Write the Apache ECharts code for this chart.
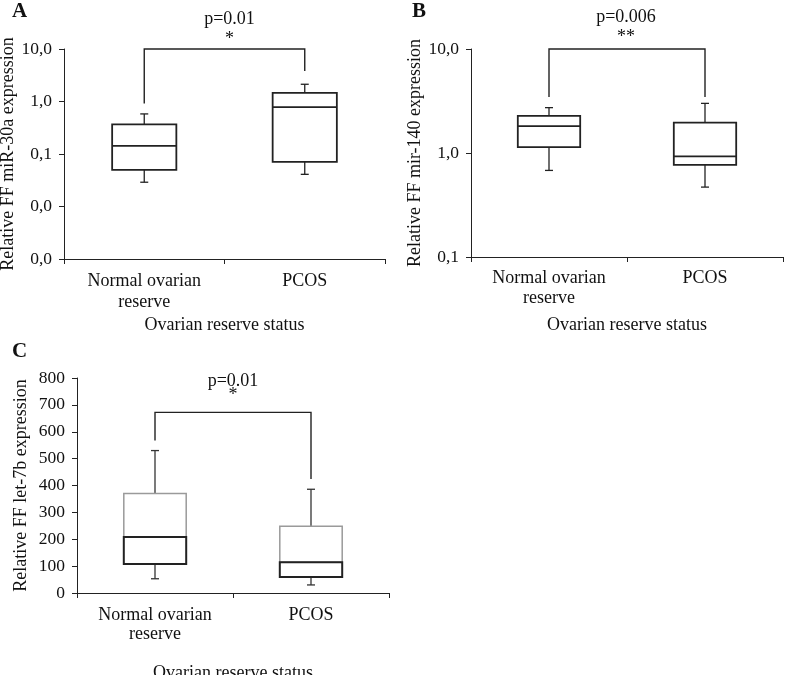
<!DOCTYPE html>
<html>
<head>
<meta charset="utf-8">
<script src="https://cdn.jsdelivr.net/npm/echarts@6/dist/echarts.min.js"></script>
<style>
html,body{margin:0;padding:0;background:#fff;}
#c{width:787px;height:675px;}
</style>
</head>
<body>
<div id="c"></div>
<script>
// ---------- data ----------
const categories = ['Normal ovarian\nreserve', 'PCOS'];
const xAxisTitle = 'Ovarian reserve status';

// box rows: [low whisker, Q1, median, Q3, high whisker]
const miR30a_normal = [0.029, 0.050, 0.143, 0.366, 0.58];
const miR30a_pcos   = [0.041, 0.071, 0.78, 1.46, 2.13];
const miR140_normal = [0.68, 1.14, 1.81, 2.27, 2.73];
const miR140_pcos   = [0.47, 0.77, 0.93, 1.96, 3.0];
const let7b_normal  = [53, 108, 208, 370, 530];
const let7b_pcos    = [30, 60, 114, 248, 386];

// significance brackets: [left leg bottom, bracket top, right leg bottom]
const bracketA = [0.92, 10, 3.8];
const bracketB = [3.45, 10, 3.45];
const bracketC = [567, 672, 424];
const pTextA = ['p=0.01', '*'];
const pTextB = ['p=0.006', '**'];
const pTextC = ['p=0.01', '*'];

const yNameA = 'Relative FF miR-30a expression';
const yNameB = 'Relative FF mir-140 expression';
const yNameC = 'Relative FF let-7b expression';
const panelLetters = ['A', 'B', 'C'];

// ---------- helpers ----------
const FONT = '"Liberation Serif", "Times New Roman", serif';
const BLACK = '#111';

function boxRows(a, b) {
  return [[0].concat(a), [1].concat(b)];
}

function makeBoxRender(split) {
  return function (params, api) {
    const x = api.value(0);
    const low = api.value(1), q1 = api.value(2), med = api.value(3), q3 = api.value(4), high = api.value(5);
    const pLow = api.coord([x, low]);
    const pQ1 = api.coord([x, q1]);
    const pMed = api.coord([x, med]);
    const pQ3 = api.coord([x, q3]);
    const pHigh = api.coord([x, high]);
    const step = api.coord([1, q1])[0] - api.coord([0, q1])[0];
    const bw = step * 0.4;
    const cx = pMed[0];
    const cap = 4;
    const wStyle = { stroke: split ? '#333' : '#222', lineWidth: 1.3, fill: null };
    const children = [
      { type: 'line', shape: { x1: cx, y1: pHigh[1], x2: cx, y2: pQ3[1] }, style: wStyle },
      { type: 'line', shape: { x1: cx - cap, y1: pHigh[1], x2: cx + cap, y2: pHigh[1] }, style: wStyle },
      { type: 'line', shape: { x1: cx, y1: pQ1[1], x2: cx, y2: pLow[1] }, style: wStyle },
      { type: 'line', shape: { x1: cx - cap, y1: pLow[1], x2: cx + cap, y2: pLow[1] }, style: wStyle }
    ];
    if (split) {
      children.push({ type: 'rect', shape: { x: cx - bw / 2, y: pQ3[1], width: bw, height: pMed[1] - pQ3[1] },
        style: { fill: '#fff', stroke: '#9a9a9a', lineWidth: 1.5 } });
      children.push({ type: 'rect', shape: { x: cx - bw / 2, y: pMed[1], width: bw, height: pQ1[1] - pMed[1] },
        style: { fill: '#fff', stroke: '#222', lineWidth: 2 } });
    } else {
      children.push({ type: 'rect', shape: { x: cx - bw / 2, y: pQ3[1], width: bw, height: pQ1[1] - pQ3[1] },
        style: { fill: '#fff', stroke: '#222', lineWidth: 1.8 } });
      children.push({ type: 'line', shape: { x1: cx - bw / 2, y1: pMed[1], x2: cx + bw / 2, y2: pMed[1] },
        style: { stroke: '#222', lineWidth: 1.8 } });
    }
    return { type: 'group', children: children };
  };
}

function makeBracketRender(texts, dx, pOff, sOff) {
  return function (params, api) {
    const l = api.coord([0, api.value(0)]);
    const t0 = api.coord([0, api.value(1)]);
    const t1 = api.coord([1, api.value(1)]);
    const r = api.coord([1, api.value(2)]);
    const mx = (t0[0] + t1[0]) / 2 + dx;
    return {
      type: 'group',
      children: [
        { type: 'polyline', shape: { points: [l, t0, t1, r] }, style: { stroke: '#222', lineWidth: 1.4, fill: null } },
        { type: 'text', x: mx, y: t0[1] + pOff, style: { text: texts[0], fill: BLACK, font: '18px ' + FONT, align: 'center', verticalAlign: 'middle' } },
        { type: 'text', x: mx, y: t0[1] + sOff, style: { text: texts[1], fill: BLACK, font: '18px ' + FONT, align: 'center', verticalAlign: 'middle' } }
      ]
    };
  };
}

function xAxisCfg(grid, margin, lineHeight, nameGap) {
  return {
    type: 'category', gridIndex: grid, data: categories, boundaryGap: true,
    axisLine: { lineStyle: { color: '#222', width: 1 } },
    axisTick: { show: true, length: 5, lineStyle: { color: '#222' } },
    axisLabel: { color: BLACK, fontFamily: FONT, fontSize: 18, margin: margin, lineHeight: lineHeight },
    name: xAxisTitle, nameLocation: 'middle', nameGap: nameGap,
    nameTextStyle: { color: BLACK, fontFamily: FONT, fontSize: 18 },
    splitLine: { show: false }
  };
}

const logFmt = v => Number(v).toFixed(1).replace('.', ',');

const yLabel = { color: BLACK, fontFamily: FONT, fontSize: 17.5, margin: 12 };
const yLine = { show: true, lineStyle: { color: '#222', width: 1 } };
const yTick = { show: true, length: 5, lineStyle: { color: '#222' } };
const yNameStyle = { color: BLACK, fontFamily: FONT, fontSize: 18 };
const letterStyle = { fontFamily: FONT, fontWeight: 'bold', fontSize: 21, color: BLACK };

const option = {
  animation: false,
  backgroundColor: '#fff',
  title: [
    { text: panelLetters[0], left: 12, top: 1, padding: 0, textStyle: letterStyle },
    { text: panelLetters[1], left: 412, top: 1, padding: 0, textStyle: letterStyle },
    { text: panelLetters[2], left: 12, top: 341, padding: 0, textStyle: letterStyle }
  ],
  grid: [
    { left: 64, top: 49, width: 321, height: 210, outerBoundsMode: 'none' },
    { left: 471, top: 49, width: 312, height: 208, outerBoundsMode: 'none' },
    { left: 77, top: 378, width: 312, height: 215, outerBoundsMode: 'none' }
  ],
  xAxis: [
    xAxisCfg(0, 12, 21, 57),
    xAxisCfg(1, 11, 20, 59),
    xAxisCfg(2, 13, 19, 71)
  ],
  yAxis: [
    { type: 'log', gridIndex: 0, logBase: 10, min: 0.001, max: 10,
      axisLine: yLine, axisTick: yTick, splitLine: { show: false },
      axisLabel: Object.assign({ formatter: logFmt }, yLabel),
      name: yNameA, nameLocation: 'middle', nameGap: 46, nameTextStyle: yNameStyle },
    { type: 'log', gridIndex: 1, logBase: 10, min: 0.1, max: 10,
      axisLine: yLine, axisTick: yTick, splitLine: { show: false },
      axisLabel: Object.assign({ formatter: logFmt }, yLabel),
      name: yNameB, nameLocation: 'middle', nameGap: 45, nameTextStyle: yNameStyle },
    { type: 'value', gridIndex: 2, min: 0, max: 800, interval: 100,
      axisLine: yLine, axisTick: yTick, splitLine: { show: false },
      axisLabel: yLabel,
      name: yNameC, nameLocation: 'middle', nameGap: 47, nameTextStyle: yNameStyle }
  ],
  series: [
    { type: 'custom', xAxisIndex: 0, yAxisIndex: 0, renderItem: makeBoxRender(false),
      encode: { x: 0, y: [1, 2, 3, 4, 5] }, data: boxRows(miR30a_normal, miR30a_pcos), clip: false },
    { type: 'custom', xAxisIndex: 1, yAxisIndex: 1, renderItem: makeBoxRender(false),
      encode: { x: 0, y: [1, 2, 3, 4, 5] }, data: boxRows(miR140_normal, miR140_pcos), clip: false },
    { type: 'custom', xAxisIndex: 2, yAxisIndex: 2, renderItem: makeBoxRender(true),
      encode: { x: 0, y: [1, 2, 3, 4, 5] }, data: boxRows(let7b_normal, let7b_pcos), clip: false },
    { type: 'custom', xAxisIndex: 0, yAxisIndex: 0, renderItem: makeBracketRender(pTextA, 5, -30, -10),
      encode: { x: -1, y: [0, 1, 2] }, data: [bracketA], clip: false },
    { type: 'custom', xAxisIndex: 1, yAxisIndex: 1, renderItem: makeBracketRender(pTextB, -1, -32, -12),
      encode: { x: -1, y: [0, 1, 2] }, data: [bracketB], clip: false },
    { type: 'custom', xAxisIndex: 2, yAxisIndex: 2, renderItem: makeBracketRender(pTextC, 0, -31, -17),
      encode: { x: -1, y: [0, 1, 2] }, data: [bracketC], clip: false }
  ]
};

const chart = echarts.init(document.getElementById('c'), null, { renderer: 'canvas' });
chart.setOption(option);
</script>
</body>
</html>
